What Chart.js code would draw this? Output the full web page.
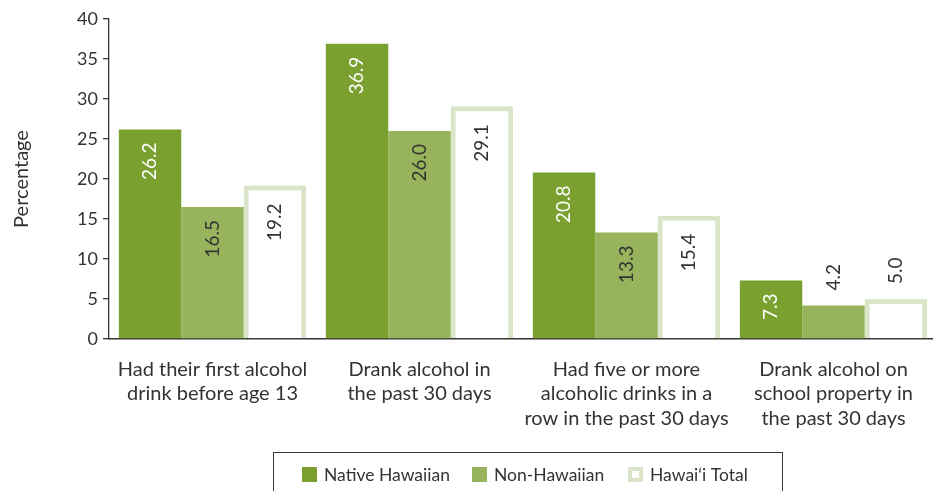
<!DOCTYPE html>
<html><head><meta charset="utf-8">
<script src="https://cdn.jsdelivr.net/npm/chart.js@4/dist/chart.umd.min.js"></script>
<style>html,body{margin:0;padding:0;background:#fff;overflow:hidden;width:933px;height:491px}canvas{display:block}</style>
</head><body><canvas id="c" width="937" height="491"></canvas>
<script>
const categories = [
  ["Had their first alcohol", "drink before age 13"],
  ["Drank alcohol in", "the past 30 days"],
  ["Had five or more", "alcoholic drinks in a", "row in the past 30 days"],
  ["Drank alcohol on", "school property in", "the past 30 days"]
];
const seriesNames = ["Native Hawaiian", "Non-Hawaiian", "Hawai\u2018i Total"];
const nativeHawaiian = [26.2, 36.9, 20.8, 7.3];
const nonHawaiian = [16.5, 26.0, 13.3, 4.2];
const hawaiiTotal = [19.2, 29.1, 15.4, 5.0];
const yTicks = [0, 5, 10, 15, 20, 25, 30, 35, 40];
const yTitle = "Percentage";

const FONT = "Lato";
const TEXT = "#333333";
const C_NATIVE = "#7aa12f";
const C_NON = "#97b45d";
const C_TOTAL = "#d9e4c8";

const valueLabels = {
  id: "valueLabels",
  afterDatasetsDraw(chart) {
    const ctx = chart.ctx;
    ctx.save();
    ctx.font = "19px " + FONT;
    chart.data.datasets.forEach((ds, di) => {
      const meta = chart.getDatasetMeta(di);
      meta.data.forEach((bar, i) => {
        const v = ds.data[i];
        const txt = v.toFixed(1);
        const w = ctx.measureText(txt).width;
        const bw = ds.borderWidth || 0;
        const h = bar.base - bar.y - bw;
        ctx.save();
        ctx.translate(bar.x, 0);
        ctx.rotate(-Math.PI / 2);
        ctx.textBaseline = "middle";
        if (h > w + 24) {
          ctx.fillStyle = di === 0 ? "#ffffff" : TEXT;
          ctx.textAlign = "right";
          ctx.fillText(txt, -(bar.y + bw + 13), 0);
        } else {
          ctx.fillStyle = TEXT;
          ctx.textAlign = "left";
          ctx.fillText(txt, -(bar.y - 15), 0);
        }
        ctx.restore();
      });
    });
    ctx.restore();
  }
};

const boxLegend = {
  id: "boxLegend",
  afterDraw(chart) {
    const ctx = chart.ctx;
    ctx.save();
    ctx.strokeStyle = "#3a3a3a";
    ctx.lineWidth = 1;
    ctx.strokeRect(273.5, 452.5, 509, 60);
    ctx.font = "17.5px " + FONT;
    ctx.textBaseline = "middle";
    ctx.textAlign = "left";
    const xs = [302, 472, 628];
    const y = 467;
    chart.data.datasets.forEach((ds, di) => {
      const x = xs[di];
      if (di === 2) {
        ctx.fillStyle = C_TOTAL;
        ctx.fillRect(x, y, 15, 15);
        ctx.fillStyle = "#ffffff";
        ctx.fillRect(x + 4, y + 4, 7, 7);
      } else {
        ctx.fillStyle = ds.backgroundColor;
        ctx.fillRect(x, y, 15, 15);
      }
      ctx.fillStyle = TEXT;
      ctx.fillText(ds.label, x + 22, y + 8);
    });
    ctx.restore();
  }
};

new Chart(document.getElementById("c"), {
  type: "bar",
  data: {
    labels: categories,
    datasets: [
      { label: seriesNames[0], data: nativeHawaiian, backgroundColor: C_NATIVE, borderWidth: 0 },
      { label: seriesNames[1], data: nonHawaiian, backgroundColor: C_NON, borderWidth: 0 },
      { label: seriesNames[2], data: hawaiiTotal, backgroundColor: "#ffffff", borderColor: C_TOTAL, borderWidth: 5, borderSkipped: "bottom" }
    ]
  },
  options: {
    responsive: false,
    devicePixelRatio: 1,
    animation: false,
    layout: { padding: { top: 19, right: 0, bottom: 0, left: 0 } },
    datasets: { bar: { categoryPercentage: 0.905, barPercentage: 1.0 } },
    plugins: { legend: { display: false }, tooltip: { enabled: false } },
    scales: {
      x: {
        grid: { display: false },
        border: { display: true, color: "#333333", width: 1.5 },
        ticks: { color: TEXT, font: { family: FONT, size: 20, lineHeight: 1.225 }, padding: 10, maxRotation: 0, autoSkip: false },
        afterFit(scale) { scale.height = 152; }
      },
      y: {
        min: 0, max: 40,
        afterBuildTicks(scale) { scale.ticks = yTicks.map(v => ({ value: v })); },
        grid: { display: true, drawOnChartArea: false, drawTicks: true, tickLength: 6, color: "#333333", lineWidth: 1.3 },
        border: { display: true, color: "#333333", width: 1.3 },
        ticks: { color: TEXT, font: { family: FONT, size: 18 }, padding: 5 },
        title: { display: true, text: yTitle, color: TEXT, font: { family: FONT, size: 20 }, padding: { top: 10, bottom: 0 } },
        afterFit(scale) { scale.width = 109; }
      }
    }
  },
  plugins: [valueLabels, boxLegend]
});
</script>
</body></html>
